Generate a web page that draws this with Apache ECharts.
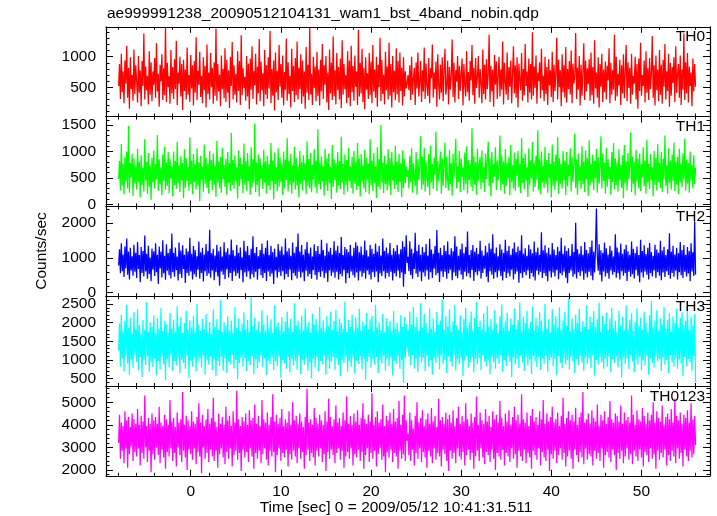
<!DOCTYPE html>
<html><head><meta charset="utf-8">
<script src="https://cdn.jsdelivr.net/npm/echarts@6/dist/echarts.min.js"></script>
<style>html,body{margin:0;padding:0;background:#fff}#c{width:717px;height:516px}</style>
</head><body><div id="c"></div>
<script>
const titleText = 'ae999991238_20090512104131_wam1_bst_4band_nobin.qdp';
const xTitle = 'Time [sec] 0 = 2009/05/12 10:41:31.511';
const yTitle = 'Counts/sec';
const panelNames = ['TH0', 'TH1', 'TH2', 'TH3', 'TH0123'];
const panelColors = ['#ff0000', '#00ff00', '#0000ff', '#00ffff', '#ff00ff'];
// one sample every timeStep seconds from timeStart; each band is stored in two consecutive parts
const timeStart = -8, timeStep = 0.1;

const th0_part1 = [
520,880,310,1050,420,760,240,940,560,1180,330,820,150,990,470,700,280,1120,390,860,
600,250,1010,410,780,190,930,520,1380,300,840,450,690,220,1090,380,910,270,760,540,
980,330,1220,430,720,180,870,600,1040,290,810,370,1490,260,900,500,680,230,1110,400,
830,310,960,470,1260,210,740,560,1000,350,880,130,950,440,790,300,1150,380,700,260,
1030,480,860,200,930,410,1320,290,770,540,1080,340,690,240,990,450,850,170,1200,390,
740,300,1060,500,820,230,910,360,1460,280,880,430,710,190,1020,470,800,320,1140,260,
950,410,780,160,1000,520,1240,300,860,380,720,250,1090,440,930,210,1350,370,810,490,
670,280,1010,350,890,140,970,460,1170,310,760,530,1050,220,840,400,1290,270,920,450,
730,190,1110,380,860,310,990,480,1420,240,800,360,940,120,1070,420,770,290,1190,510,
880,330,1020,200,750,460,1300,280,910,390,690,170,1130,440,850,260,980,370,1250,300,
820,470,1040,230,940,350,760,150,1160,410,870,290,1480,380,720,210,1000,490,840,270,
1080,360,790,200,950,430,1210,310,860,540,1010,250,740,130,1120,400,900,290,1330,350,
780,220,1060,450,830,300,970,160,1270,380,880,470,700,240,1090,330,940,190,1180,420,
850,280,1020,510,760,210,1440,350,900,400,1130,260,810,140,990,460,730,310,1060,370,
920,240,1190,430,790,330,1000,180,870,500,1310,270,950,390,710,220,1080,450,840,300,
1230,360,880,170,1010,420,770,290,1140,380,930,250,1070,440,820,200,990,350,760,480,
560];
const th0_part2 = [
700,450,860,290,1000,380,640,820,210,910,480,1070,350,590,930,260,780,430,1150,310,
890,520,360,980,240,810,650,1200,330,740,470,920,180,1040,560,300,870,410,990,270,
760,1130,380,520,940,220,830,460,690,1280,340,900,250,780,590,1010,310,850,440,720,
970,200,880,530,350,1090,420,750,280,930,610,1190,370,820,230,980,490,660,1010,330,
800,560,240,1120,390,870,300,960,470,710,1360,260,850,430,790,180,1030,540,920,310,
680,1000,350,790,460,1250,220,900,580,380,1070,290,830,510,940,240,720,1170,400,860,
330,990,170,890,620,450,1060,280,800,370,1210,520,760,250,970,410,880,300,1400,360,
840,490,1020,230,740,600,910,320,1130,450,690,270,1000,390,830,210,960,530,780,340,
1080,260,870,440,720,1310,300,950,500,780,190,1040,420,860,330,1160,250,800,470,930,
380,1100,240,890,560,700,1390,310,820,460,1010,200,870,360,750,1220,290,940,430,810,
550,960,280,1070,370,830,230,1270,480,740,330,990,170,880,510,1050,260,790,420,920,
300,850,610,1140,240,900,380,780,460,1360,280,1000,350,720,530,950,210,860,400,1040,
320,760,1190,270,910,490,820,230,1050,380,690,560,1000,300,880,150,970,440,1230,360,
700,520,940,250,1090,410,810,290,980,470,740,1340,330,860,200,1020,450,790,270,1110,
380,870,230,950,510,1210,300,760,440,1050,180,900,360,830,570,990,260,1170,410,720,
880,330,1020,210,790,460,1380,290,910,400,1060,250,840,520,740,190,970,430,880,510];

const th1_part1 = [
480,820,260,1140,350,760,190,900,430,1000,300,1480,220,780,510,950,160,870,390,720,
280,1050,420,810,130,930,360,690,240,1230,450,800,200,970,330,740,80,880,410,1020,
300,760,470,1310,250,850,380,700,170,940,440,1090,270,790,350,990,210,860,490,720,
150,1000,360,820,290,1180,400,740,230,910,460,780,120,1040,310,870,440,700,260,1270,
380,830,190,950,420,760,280,1060,350,800,60,920,470,710,240,1130,390,880,310,770,
200,1010,450,840,270,960,370,730,140,1200,410,810,300,900,220,1070,480,750,330,860,
180,990,400,780,250,1350,360,840,290,930,430,700,110,1020,340,880,470,760,210,1150,
370,820,260,970,440,720,180,1080,320,850,400,1530,230,790,360,940,150,870,480,730,
290,1030,410,810,200,920,350,760,270,1160,440,830,90,980,380,700,250,1060,330,890,
420,770,170,1000,300,850,460,1250,240,820,370,950,200,740,410,1090,280,880,350,720,
130,1010,390,800,260,930,450,780,190,1190,340,860,300,970,230,750,470,1040,320,830,
210,1420,380,790,280,910,430,730,160,1050,360,870,250,960,400,710,100,1120,330,850,
460,780,220,990,350,820,290,1280,410,760,180,940,370,840,240,1070,440,720,310,900,
200,1010,390,800,270,1160,340,860,150,950,420,740,300,1030,230,880,470,770,190,1230,
360,830,250,970,400,720,120,1080,330,850,280,1500,410,790,210,920,380,760,260,1040,
340,870,170,990,450,740,290,1110,370,810,230,950,420,780,140,1020,310,860,400,720,
520];
const th1_part2 = [
650,300,920,420,1060,220,780,540,340,990,180,850,460,720,1290,280,900,370,1070,240,
810,500,330,950,170,1110,410,760,290,880,560,1380,250,820,430,690,1000,200,870,350,
740,1170,310,900,440,260,1030,380,780,160,950,490,830,1240,300,720,420,1010,230,860,
520,700,270,980,390,1100,200,840,460,760,330,1440,250,910,370,800,180,1050,430,750,
890,290,1020,410,710,230,960,480,820,1190,340,870,150,990,400,760,520,1080,270,830,
450,720,1300,260,930,380,810,200,1040,350,780,490,900,170,1120,420,740,300,980,250,
860,540,1010,320,770,210,1250,400,880,280,960,450,700,140,1060,360,830,490,1180,240,
790,330,920,460,1400,270,850,190,1000,410,730,310,1090,380,840,220,970,500,760,130,
1130,350,810,270,940,430,1270,200,870,390,760,300,1010,460,830,170,990,340,750,530,
1060,240,900,420,780,1340,310,850,180,960,440,720,290,1100,380,810,230,1020,470,880,
160,1210,350,760,410,940,270,820,500,1050,220,890,390,730,1290,300,960,440,790,200,
1070,330,850,480,710,180,990,420,1160,280,870,360,800,240,1040,450,750,310,930,120,
1120,390,820,260,970,470,740,1360,230,900,380,800,170,1030,430,860,300,960,250,760,
510,1080,340,830,200,1220,410,770,290,950,460,700,150,1010,370,880,260,1140,420,790,
310,990,230,860,480,1300,350,740,200,1060,400,830,280,940,440,1170,250,810,370,900,
190,1050,420,760,320,960,470,1240,260,850,390,780,220,1000,450,740,300,930,380,690];

const th2_part1 = [
780,1250,560,1420,620,1100,450,1330,700,1560,520,1180,380,1290,640,1050,490,1380,600,1150,
420,1460,680,1080,300,1310,570,1200,470,1640,610,1120,400,1350,540,1010,330,1270,660,1190,
480,1420,590,1090,250,1330,700,1180,440,1510,560,1060,370,1390,630,1140,500,1260,410,1700,
590,1150,460,1300,650,1040,350,1440,540,1210,420,1360,680,1090,280,1270,570,1180,490,1580,
610,1120,380,1340,530,1230,450,1050,660,1470,400,1160,570,1290,320,1100,620,1400,480,1200,
550,1810,430,1130,640,1260,360,1070,590,1380,470,1190,200,1320,610,1040,520,1450,390,1170,
670,1280,440,1100,570,1530,340,1230,610,1060,480,1370,560,1150,410,1300,650,1020,300,1490,
580,1190,460,1340,620,1080,390,1260,530,1620,440,1140,600,1310,370,1050,680,1230,500,1410,
420,1120,570,1290,340,1500,610,1080,470,1350,550,1170,250,1260,640,1030,430,1400,590,1210,
480,1330,620,1100,380,1560,540,1190,450,1280,660,1060,360,1440,570,1150,490,1320,410,1700,
600,1180,440,1370,580,1090,330,1250,630,1460,470,1130,540,1300,400,1040,650,1390,510,1200,
370,1340,590,1110,460,1520,620,1230,420,1070,560,1420,310,1180,640,1290,480,1100,580,1480,
430,1210,600,1350,380,1140,540,1600,470,1080,650,1310,270,1250,560,1170,420,1380,610,1060,
500,1290,440,1450,580,1350,350,1160,620,1330,460,1090,570,1500,400,1220,640,1040,520,1370,
380,1260,590,1120,450,1410,610,1180,300,1340,550,1070,480,1560,620,1200,410,1300,570,1130,
460,1430,600,1090,350,1280,560,1190,470,1370,630,1110,420,1250,580,1480,170,1320,540,1650,
860];
const th2_part2 = [
1030,620,1480,510,1260,400,1130,680,1720,550,1200,450,1380,610,1090,330,1310,580,1160,470,
1400,640,1070,380,1550,590,1240,420,1120,690,1340,500,1800,560,1150,310,1290,620,1080,450,
1360,600,1200,400,1470,550,1100,660,1280,360,1190,580,1620,480,1330,420,1060,640,1250,520,
1410,380,1140,600,1310,470,1760,560,1080,430,1230,650,1370,340,1180,590,1290,500,1110,620,
1490,410,1210,570,1070,690,1350,460,1160,300,1420,620,1260,520,1680,400,1130,590,1300,440,
1050,630,1390,480,1240,350,1140,600,1520,420,1200,560,1340,470,1090,660,1270,380,1440,540,
1170,610,1330,290,1210,560,1650,430,1120,590,1280,500,1060,640,1380,400,1250,570,1130,460,
1470,350,1170,630,1300,520,1090,600,1740,420,1220,560,1360,480,1150,330,1290,620,1100,440,
1430,580,1240,470,1080,650,1320,390,1190,560,1580,500,1120,610,1350,430,1200,280,1280,570,
1060,640,1400,460,1170,530,2010,410,1250,590,1120,480,1340,620,1090,370,1460,550,1230,440,
1130,600,1310,490,1500,360,1180,580,1260,2420,1070,630,1390,510,1220,320,1150,610,1440,470,
1280,560,1100,400,1350,640,1210,520,1040,590,1680,430,1300,560,1160,380,1410,620,1120,490,
1250,570,1380,340,1190,600,1090,460,1470,530,1260,410,1140,650,1330,490,1080,300,1520,580,
1200,440,1360,610,1110,520,1290,380,1430,560,1170,470,1060,640,1380,420,1240,590,1150,490,
1490,360,1210,580,1320,450,1080,620,1250,510,1710,400,1180,570,1350,460,1100,630,1290,380,
1140,590,1460,500,1230,420,1370,600,1090,470,1310,550,1200,330,1420,610,1160,480,2050,520];

const th3_part1 = [
1250,1980,820,2210,1040,1760,690,2050,1120,2480,900,1870,600,2130,1010,1700,780,2290,1150,1820,
950,2360,720,1930,1080,1690,540,2070,990,1800,860,2550,1100,1750,680,2010,930,1890,810,2200,
1030,1710,590,2120,960,1840,740,2390,1090,1780,880,2040,450,1960,1020,1730,800,2260,1140,1850,
700,2080,970,1760,850,2440,1060,1900,640,2150,1000,1720,910,1990,760,2320,1110,1810,520,2060,
980,1870,820,2180,1070,1740,690,2500,940,1950,1040,1780,790,2100,1120,1830,610,2230,990,1760,
870,2020,1090,1690,730,2350,1010,1880,560,2090,960,1800,840,2600,1080,1740,710,2010,1030,1920,
650,2170,950,1790,880,2060,1130,1720,770,2410,1000,1860,480,2120,920,1770,1060,1980,820,2280,
1050,1830,700,2070,970,1750,860,2690,1100,1900,620,2140,1010,1810,780,2030,940,1740,1120,2330,
800,1960,1040,1780,590,2200,980,1850,890,2090,1070,1730,720,2460,960,1890,830,2010,1090,1800,
530,2150,1000,1770,910,2040,760,2300,1080,1860,670,2110,1020,1750,850,2520,980,1930,740,2060,
1110,1820,620,2190,990,1790,870,2380,1050,1880,710,2020,940,1730,500,2240,1030,1950,800,2100,
1070,1780,690,2420,970,1850,880,2060,1120,1760,600,2170,1010,1900,760,2290,950,1810,1080,2050,
730,2340,1040,1770,860,2110,560,1990,1000,1840,920,2560,1090,1750,680,2080,960,1880,820,2210,
1060,1790,630,2140,980,1860,890,2370,1100,1780,740,2030,1020,1930,470,2260,950,1820,1070,2090,
790,2180,1010,1760,870,2480,1080,1870,650,2010,990,1800,910,2230,1120,1740,710,2120,1030,1900,
840,2050,1060,1780,580,2310,970,1850,900,2000,1110,1770,760,2200,1000,1890,380,2150,1050,1960,
1300];
const th3_part2 = [
1800,1090,2300,860,1950,1130,2420,760,1880,1020,2150,680,1790,1080,2520,930,1860,1060,2240,700,
1990,1110,1720,820,2380,990,1840,600,2110,1050,1760,920,2290,1070,1950,750,2060,1120,2610,880,
1810,1000,2170,640,1900,1090,2350,950,1770,820,2040,1130,2480,710,1920,1010,1800,880,2200,1060,
1740,560,2090,980,2400,1100,1860,790,2010,940,2300,1070,1780,660,2130,1020,2560,890,1880,1050,
2060,720,1830,1120,2250,960,1750,830,2440,1000,1900,610,2100,1080,1810,940,2330,760,1970,1040,
1720,890,2180,1110,2490,680,1860,1000,2030,840,2270,1090,1780,950,2110,540,1940,1060,2380,870,
1820,1020,2070,780,2550,1120,1760,930,2160,700,1990,1080,2320,850,1850,1010,2020,620,2430,1100,
1790,960,2130,810,1920,1070,2280,730,2050,1030,1770,900,2500,1110,1840,680,2090,990,1730,1060,
2360,840,1950,1020,2170,590,1870,1100,2410,920,1800,780,2060,1050,2290,880,1910,1000,2650,740,
1780,1080,2120,950,1830,640,2220,1020,1990,860,2370,1110,1760,930,2040,710,1880,1060,2460,900,
1820,1040,2160,780,2010,1120,2310,580,1890,990,2090,870,2540,1070,1750,940,2190,760,1960,1030,
2270,820,1800,1090,2110,660,2400,1010,1860,920,2050,1100,1740,800,2320,980,1930,530,2150,1060,
1790,890,2470,1040,1840,750,2080,1120,2250,960,1770,670,2020,1010,2380,880,1900,1080,2140,720,
1810,990,2300,850,2000,1110,1750,600,2200,1040,2590,910,1870,790,2060,1090,2330,960,1790,1020,
2120,700,1950,1060,2420,870,1830,1000,2080,640,2250,1120,1760,930,2170,820,1990,1050,2370,760,
1860,1010,2130,900,2280,570,1940,1080,2050,830,2450,1020,1800,940,2160,710,1920,1100,2230,400];

const th0123_part1 = [
3200,4450,2500,4100,2850,3950,2300,4600,2950,4200,2100,4350,2700,3900,3050,4500,2400,4250,2800,4050,
2600,4700,2950,4000,2200,4400,2750,4150,2500,5300,3000,3950,2350,4300,2850,4050,1900,4500,2700,4200,
2450,4350,3000,4050,2650,4800,2300,4100,2900,3950,2550,4450,2050,4250,2800,4000,2600,5100,2950,4150,
2400,4300,2750,3900,2150,4550,3000,4100,2650,4250,2350,5450,2850,4000,2550,4400,2000,4200,2900,3950,
2700,4600,2450,4150,2950,4050,2250,4350,2800,4950,2600,4100,1850,4450,3000,3950,2500,4250,2750,4700,
2350,4050,2900,4300,2600,5200,2400,4150,2850,3900,2100,4500,2700,4050,2950,4350,2550,4000,2250,4800,
2800,4200,2500,4400,2950,3950,2150,4600,2650,4100,2850,5500,2450,4250,2750,3950,1950,4350,2900,4150,
2550,4500,2800,4000,2350,4650,2950,4200,2600,4300,2050,4900,2750,4050,2500,4400,2850,3950,2300,5100,
2700,4250,2950,4100,2450,4550,2200,4000,2850,4350,2600,5350,2800,4150,1900,4450,2650,4050,2950,4300,
2400,4700,2750,3950,2550,4250,2900,4100,2150,4600,2700,4000,2450,5000,2850,4200,2600,4400,2300,4050,
2950,4500,2500,4150,2800,3900,2050,4350,2650,5600,2900,4100,2400,4250,2750,4000,2550,4750,2200,4300,
2850,4050,2600,4450,2950,4200,2350,4000,2700,4600,1950,4150,2800,5150,2500,4350,2900,3950,2650,4250,
2300,4850,2750,4100,2950,4300,2450,3950,2850,4550,2100,4200,2600,5250,2800,4050,2500,4400,2950,4000,
2200,4500,2700,4150,2550,4650,2900,4000,2400,4300,2800,4950,2050,4250,2650,4050,2950,4450,2350,4150,
2750,5400,2500,4000,2850,4350,2150,4600,2700,4100,2950,4250,2450,4900,2600,3950,1900,4400,2800,4200,
2550,4550,2900,4050,2350,4700,2750,4150,2600,4300,2050,5050,2850,4000,2500,4450,2700,5300,2400,4200,
3300];
const th0123_part2 = [
3600,2650,4550,2400,4200,2900,3850,2200,4400,2750,5000,2500,4100,2950,4300,2350,4650,2800,3950,2550,
4250,2100,4500,2850,4050,2600,4750,2300,4150,2950,4400,2450,3900,2750,5150,2600,4200,2150,4350,2900,
4050,2700,4550,2400,4250,1950,4450,2850,4100,2500,4650,2750,3950,2300,4300,2950,4800,2600,4050,2450,
4400,2800,4150,2200,4950,2650,4250,2900,3950,2450,4500,2750,4100,2050,4350,2600,5250,2850,4000,2400,
4550,2950,4200,2550,4050,2250,4700,2800,4150,2650,4400,2350,3900,2900,4600,2500,4250,2000,4450,2750,
4100,2600,5050,2450,4300,2900,3950,2200,4500,2750,4150,2600,4650,2350,4000,2950,4350,2500,4800,2700,
4200,2100,4450,2850,4050,2600,5350,2400,4250,2900,4100,2300,4550,2750,3950,2550,4400,2050,4700,2850,
4150,2650,4350,2450,4000,2950,4600,2200,4250,2800,5100,2550,4050,2400,4500,2900,4150,1950,4350,2700,
4800,2500,4100,2850,4250,2300,4550,2650,3950,2950,4400,2450,5200,2750,4050,2150,4300,2600,4600,2850,
4200,2500,4450,2050,4150,2900,4750,2650,4000,2350,4350,2800,4550,2550,5450,2250,4100,2950,4250,2450,
4500,2700,4050,2600,4650,2200,4300,2850,4150,2500,4900,2750,3950,2400,4450,2950,4200,2100,4600,2650,
4050,2800,4350,2550,5050,2350,4250,2900,4100,2650,4500,2000,4400,2750,4150,2500,4850,2850,4050,2300,
4550,2600,4200,2950,4350,2450,4100,2700,5300,2250,4450,2850,4000,2600,4650,2400,4250,2900,4150,2550,
4750,2150,4400,2800,4050,2650,4550,2350,4200,2950,4450,2500,5000,2700,4100,2050,4600,2850,4300,2450,
4150,2750,4850,2550,4000,2900,4350,2200,4500,2650,4250,2400,4700,2850,4100,2600,5150,2300,4400,2950,
4200,2500,4550,2750,4050,2150,4450,2900,4300,2600,4650,2400,4100,2850,4950,2550,4250,2700,4400,3100];

const panelParts = [
  [th0_part1, th0_part2], [th1_part1, th1_part2], [th2_part1, th2_part2],
  [th3_part1, th3_part2], [th0123_part1, th0123_part2]
];
const xRange = [-9.4, 57.6];
const xMajorTicks = [0, 10, 20, 30, 40, 50];
const xMinorStep = 2;
const yRanges = [[20, 1490], [-40, 1660], [-100, 2480], [300, 2710], [1740, 5720]];
const yMajorTicks = [[500, 1000], [0, 500, 1000, 1500], [0, 1000, 2000], [500, 1000, 1500, 2000, 2500], [2000, 3000, 4000, 5000]];
const yMinorSteps = [100, 100, 200, 100, 200];

const FONT = '"Liberation Sans", Arial, Helvetica, sans-serif';
const FS = 15.5;
const L = 106, R = 710, T = 26.8, H = 89.8;

function steps(a, b, s) {
  const r = [];
  for (let v = Math.ceil(a / s) * s; v <= b + 1e-9; v += s) r.push(Math.round(v * 1000) / 1000);
  return r;
}
const xMinorTicks = steps(xRange[0], xRange[1], xMinorStep);
const plain = v => String(v);

function toPoints(parts) {
  const vals = parts[0].concat(parts[1]);
  return vals.map((v, i) => [timeStart + i * timeStep, v]);
}

const grids = [], xAxes = [], yAxes = [], series = [], graphics = [];
const lineSty = { color: '#000', width: 1.2 };
const tickSty = { color: '#000', width: 1 };

for (let k = 0; k < 5; k++) {
  grids.push({ left: L, width: R - L, top: T + k * H, height: H, containLabel: false });
  const xBase = { gridIndex: k, type: 'value', min: xRange[0], max: xRange[1], splitLine: { show: false }, silent: true };
  const mk = (pos, major) => Object.assign({}, xBase, {
    position: pos,
    axisLine: { show: major, onZero: false, lineStyle: lineSty },
    axisTick: { show: true, inside: true, length: major ? 6 : 3, customValues: major ? xMajorTicks : xMinorTicks, lineStyle: tickSty },
    axisLabel: { show: major && pos === 'bottom' && k === 4, customValues: xMajorTicks, formatter: plain, margin: 8, fontSize: FS, color: '#000', fontFamily: FONT }
  });
  xAxes.push(mk('bottom', true), mk('bottom', false), mk('top', true), mk('top', false));

  const yMin = yRanges[k][0], yMax = yRanges[k][1];
  const yMinor = steps(yMin, yMax, yMinorSteps[k]);
  const yBase = { gridIndex: k, type: 'value', min: yMin, max: yMax, splitLine: { show: false }, silent: true };
  const mky = (pos, major) => Object.assign({}, yBase, {
    position: pos,
    axisLine: { show: major, onZero: false, lineStyle: lineSty },
    axisTick: { show: true, inside: true, length: major ? 7 : 3.5, customValues: major ? yMajorTicks[k] : yMinor, lineStyle: tickSty },
    axisLabel: { show: major && pos === 'left', customValues: yMajorTicks[k], formatter: plain, margin: 10, fontSize: FS, color: '#000', fontFamily: FONT }
  });
  yAxes.push(mky('left', true), mky('left', false), mky('right', true), mky('right', false));

  series.push({
    type: 'line', xAxisIndex: k * 4, yAxisIndex: k * 4,
    data: toPoints(panelParts[k]),
    showSymbol: false, symbol: 'none', sampling: null, clip: true, silent: true,
    lineStyle: { color: panelColors[k], width: 1.25 }, itemStyle: { color: panelColors[k] }
  });

  graphics.push({ type: 'text', style: { text: panelNames[k], x: 705, y: T + k * H + 10.3, align: 'right', verticalAlign: 'middle', font: FS + 'px ' + FONT, fill: '#000' }, z: 100 });
}

graphics.push({ type: 'text', style: { text: titleText, x: 107, y: 14, align: 'left', verticalAlign: 'middle', font: FS + 'px ' + FONT, fill: '#000' } });
graphics.push({ type: 'text', style: { text: xTitle, x: 396, y: 508, align: 'center', verticalAlign: 'middle', font: FS + 'px ' + FONT, fill: '#000' } });
graphics.push({ type: 'text', x: 42, y: 251, rotation: Math.PI / 2, style: { text: yTitle, x: 0, y: 0, align: 'center', verticalAlign: 'middle', font: FS + 'px ' + FONT, fill: '#000' } });

const chart = echarts.init(document.getElementById('c'), null, { renderer: 'canvas' });
chart.setOption({
  animation: false,
  backgroundColor: '#fff',
  grid: grids, xAxis: xAxes, yAxis: yAxes, series: series, graphic: graphics
});
</script></body></html>
